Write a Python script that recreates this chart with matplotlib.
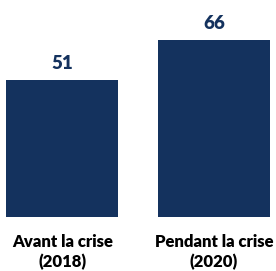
import matplotlib.pyplot as plt

categories = ['Avant la crise\n(2018)', 'Pendant la crise\n(2020)']
values = [51, 66]

navy = '#14325e'

fig = plt.figure(figsize=(2.76, 2.71), dpi=100)
ax = fig.add_axes([0, 0.199, 1, 0.791])
bars = ax.bar(range(len(values)), values, width=0.74, color=navy)
ax.bar_label(bars, labels=[str(v) for v in values], padding=6,
             color=navy, fontsize=13.5, fontweight='heavy', family='Lato')
ax.set_xlim(-0.41, 1.41)
ax.set_ylim(0, 80)
ax.set_xticks(range(len(values)))
ax.set_xticklabels(categories, fontsize=12, fontweight='heavy', family='Lato', linespacing=1.3)
ax.tick_params(axis='x', length=0, pad=12)
ax.set_yticks([])
for s in ax.spines.values():
    s.set_visible(False)
fig.savefig('out.png', dpi=100)
